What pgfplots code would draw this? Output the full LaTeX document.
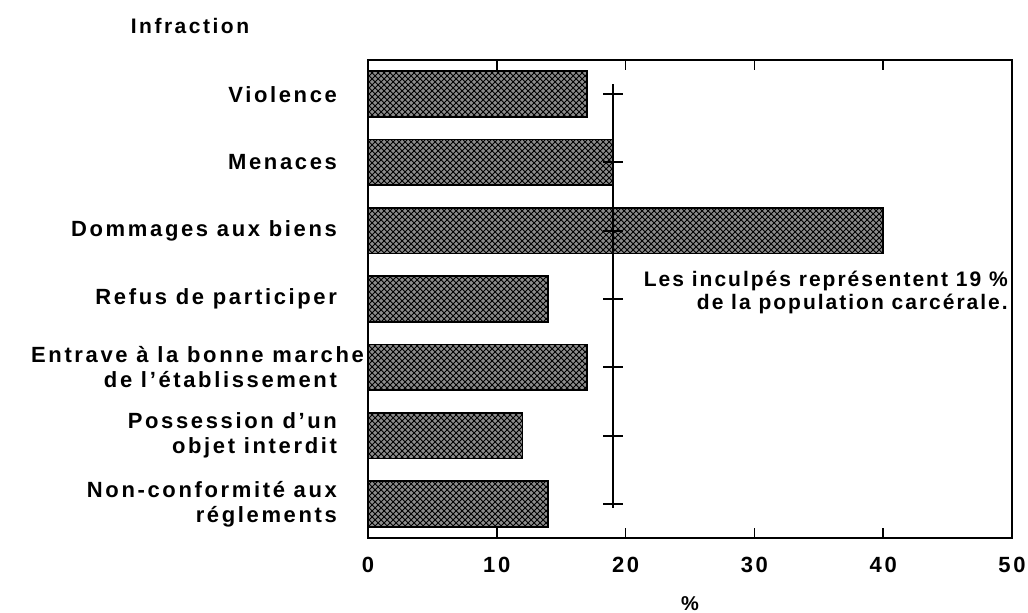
\documentclass[border=0pt]{standalone}
\usepackage{fontspec}
\setmainfont{Liberation Sans}[LetterSpace=12]
\newfontfamily\annfont{Liberation Sans}[LetterSpace=9.5]
\usepackage{pgfplots}
\pgfplotsset{compat=1.18}
\usetikzlibrary{patterns}
\begin{document}
\begin{tikzpicture}
\begin{axis}[
  scale only axis,
  width=322pt, height=239pt,
  xmin=0, xmax=50, ymin=0.5, ymax=7.5,
  xtick={0,10,...,50},
  tick align=inside,
  major tick length=5pt,
  ytick={1,...,7},
  yticklabels={{Non-conformité aux\\réglements},{Possession d'un\\objet interdit},{Entrave à la bonne marche\hspace*{-13.5pt}\\de l'établissement},{Refus de participer},{Dommages aux biens},{Menaces},{Violence}},
  ytick style={draw=none},
  yticklabel style={align=right, xshift=-12pt, font=\bfseries\fontsize{11}{12.5}\selectfont},
  xticklabel style={yshift=-6pt, font=\bfseries\fontsize{11}{12}\selectfont},
  /pgf/number format/assume math mode=true,
  xlabel={\%},
  xlabel style={font=\bfseries\fontsize{10}{11}\selectfont, yshift=-5pt},
  axis line style={line width=1pt},
  every tick/.style={line width=0.8pt, black},
  clip=false,
]
\addplot[xbar, bar width=0.67, draw=black, line width=0.9pt, fill=black!45,
  postaction={pattern=crosshatch, pattern color=black}]
  coordinates {(14,1) (12,2) (17,3) (14,4) (40,5) (19,6) (17,7)};
\addplot[black, line width=1pt] coordinates {(19,0.94) (19,7.15)};
\addplot[only marks, mark=-, mark size=5pt, mark options={line width=1pt}, black]
  coordinates {(19,1) (19,2) (19,3) (19,4) (19,5) (19,6) (19,7)};
\node[anchor=east, align=right, inner sep=0pt, font=\annfont\bfseries\fontsize{10.5}{11.5}\selectfont]
  at (axis cs:49.7,4.1) {Les inculpés représentent 19 \%\\de la population carcérale.};
\node[font=\bfseries\fontsize{10.5}{12}\selectfont] at (rel axis cs:0,1) [xshift=-89pt, yshift=17pt] {Infraction};
\coordinate (ll) at (rel axis cs:0,0);
\coordinate (ur) at (rel axis cs:1,1);
\end{axis}
\pgfresetboundingbox
\path[use as bounding box] ([xshift=-184pt, yshift=-37.5pt]ll) rectangle ([xshift=8pt, yshift=30pt]ur);
\end{tikzpicture}
\end{document}
